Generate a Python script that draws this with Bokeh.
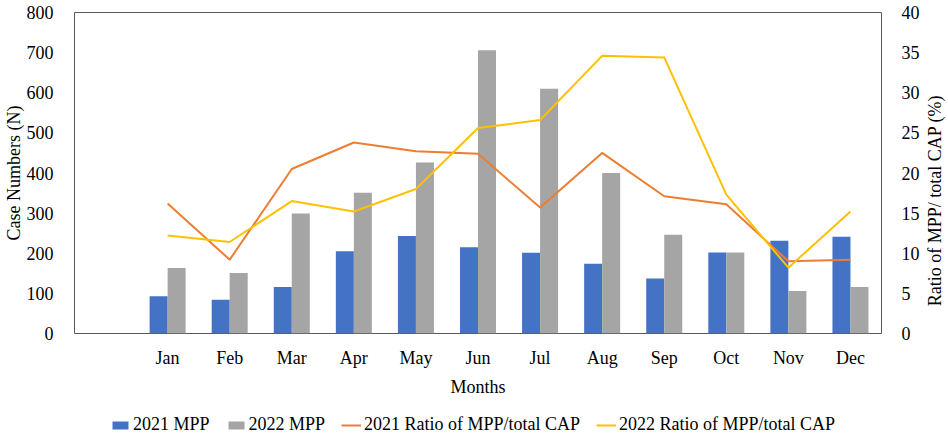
import math
from bokeh.plotting import figure
from bokeh.layouts import row, column
from bokeh.models import Range1d, LinearAxis, FixedTicker, Legend, LegendItem, ColumnDataSource, Label
from bokeh.embed import file_html
from bokeh.resources import INLINE

months = ["Jan", "Feb", "Mar", "Apr", "May", "Jun", "Jul", "Aug", "Sep", "Oct", "Nov", "Dec"]
mpp_2021 = [93, 84, 116, 205, 243, 215, 201, 174, 137, 202, 231, 241]
mpp_2022 = [163, 151, 299, 351, 426, 706, 610, 400, 246, 202, 106, 116]
ratio_2021 = [16.2, 9.2, 20.5, 23.8, 22.7, 22.4, 15.7, 22.5, 17.1, 16.1, 9.0, 9.2]
ratio_2022 = [12.2, 11.4, 16.5, 15.2, 18.0, 25.6, 26.6, 34.6, 34.4, 17.3, 8.2, 15.2]
left_ticks = [0, 100, 200, 300, 400, 500, 600, 700, 800]
right_ticks = [0, 5, 10, 15, 20, 25, 30, 35, 40]
series_names = ["2021 MPP", "2022 MPP", "2021 Ratio of MPP/total CAP", "2022 Ratio of MPP/total CAP"]

FONT = "Liberation Serif"
FS = "18px"
BLUE = "#4472C4"
GRAY = "#A5A5A5"
ORANGE = "#ED7D31"
YELLOW = "#FFC000"

FW, FH = 807, 321
TOP, BOTTOM = 12, 68
PH = TOP + FH + BOTTOM
LEG_H = 34

pos = list(range(1, len(months) + 1))
src = ColumnDataSource(dict(
    x=pos,
    x21=[p - 0.145 for p in pos],
    x22=[p + 0.145 for p in pos],
    m21=mpp_2021, m22=mpp_2022, r21=ratio_2021, r22=ratio_2022,
))

p = figure(frame_width=FW, frame_height=FH, output_backend="svg", toolbar_location=None,
           x_range=Range1d(-0.5, 12.5), y_range=Range1d(0, 800),
           min_border_top=TOP, min_border_left=0, min_border_right=0, min_border_bottom=BOTTOM)
p.extra_y_ranges = {"ratio": Range1d(0, 40)}

b1 = p.vbar(x="x21", top="m21", width=0.29, source=src, color=BLUE, line_color=None)
b2 = p.vbar(x="x22", top="m22", width=0.29, source=src, color=GRAY, line_color=None)
l1 = p.line(x="x", y="r21", source=src, y_range_name="ratio", line_color=ORANGE, line_width=2)
l2 = p.line(x="x", y="r22", source=src, y_range_name="ratio", line_color=YELLOW, line_width=2)

right = LinearAxis(y_range_name="ratio", ticker=FixedTicker(ticks=right_ticks))
p.add_layout(right, "right")

p.yaxis[0].ticker = FixedTicker(ticks=left_ticks)
p.yaxis[0].axis_label = "Case Numbers (N)"

p.xaxis.ticker = FixedTicker(ticks=pos)
p.xaxis.major_label_overrides = {i: m for i, m in zip(pos, months)}
p.xaxis.axis_label = "Months"

for ax in p.axis:
    ax.major_tick_line_color = None
    ax.minor_tick_line_color = None
    ax.axis_line_color = None
    ax.major_label_text_font = FONT
    ax.major_label_text_font_size = FS
    ax.major_label_text_color = "#000000"
    ax.axis_label_text_font = FONT
    ax.axis_label_text_font_size = FS
    ax.axis_label_text_font_style = "normal"
    ax.axis_label_text_color = "#000000"

p.yaxis[0].major_label_standoff = 15
p.yaxis[0].axis_label_standoff = 0
right.major_label_standoff = 14
p.xaxis.major_label_standoff = 8
p.xaxis.axis_label_standoff = 6

p.xgrid.grid_line_color = None
p.ygrid.grid_line_color = None
p.outline_line_color = "#595959"
p.outline_line_width = 1

# right-hand axis title (reads bottom to top)
lab = figure(width=24, height=PH, output_backend="svg", toolbar_location=None,
             x_axis_type=None, y_axis_type=None, min_border=0,
             x_range=Range1d(0, 1), y_range=Range1d(0, 1))
lab.outline_line_color = None
lab.xgrid.grid_line_color = None
lab.ygrid.grid_line_color = None
lab.add_layout(Label(x=12, y=PH - 268, x_units="screen", y_units="screen",
                     text="Ratio of MPP/ total CAP (%)", angle=math.pi / 2,
                     text_align="center", text_baseline="middle",
                     text_font=FONT, text_font_size=FS, text_color="#000000"))

# legend strip (its renderers use the same data, drawn outside the strip's visible range)
leg = figure(width=940, height=LEG_H, output_backend="svg", toolbar_location=None,
             x_axis_type=None, y_axis_type=None, min_border=0,
             x_range=Range1d(1000, 1001), y_range=Range1d(5000, 5001))
leg.outline_line_color = None
leg.xgrid.grid_line_color = None
leg.ygrid.grid_line_color = None
r1 = leg.vbar(x="x21", top="m21", width=0.29, source=src, color=BLUE, line_color=None)
r2 = leg.vbar(x="x22", top="m22", width=0.29, source=src, color=GRAY, line_color=None)
r3 = leg.line(x="x", y="r21", source=src, line_color=ORANGE, line_width=2)
r4 = leg.line(x="x", y="r22", source=src, line_color=YELLOW, line_width=2)
legend = Legend(items=[LegendItem(label=n, renderers=[r]) for n, r in zip(series_names, [r1, r2, r3, r4])],
                orientation="horizontal", location=(110, 0))
legend.label_text_font = FONT
legend.label_text_font_size = FS
legend.label_text_color = "#000000"
legend.glyph_width = 20
legend.glyph_height = 10
legend.label_standoff = 3
legend.spacing = 16
legend.padding = 0
legend.margin = 0
legend.border_line_color = None
legend.background_fill_alpha = 0
leg.add_layout(legend, "center")

layout = column(row(p, lab, spacing=0), leg, spacing=0)
open("out.html", "w").write(file_html(layout, INLINE))
